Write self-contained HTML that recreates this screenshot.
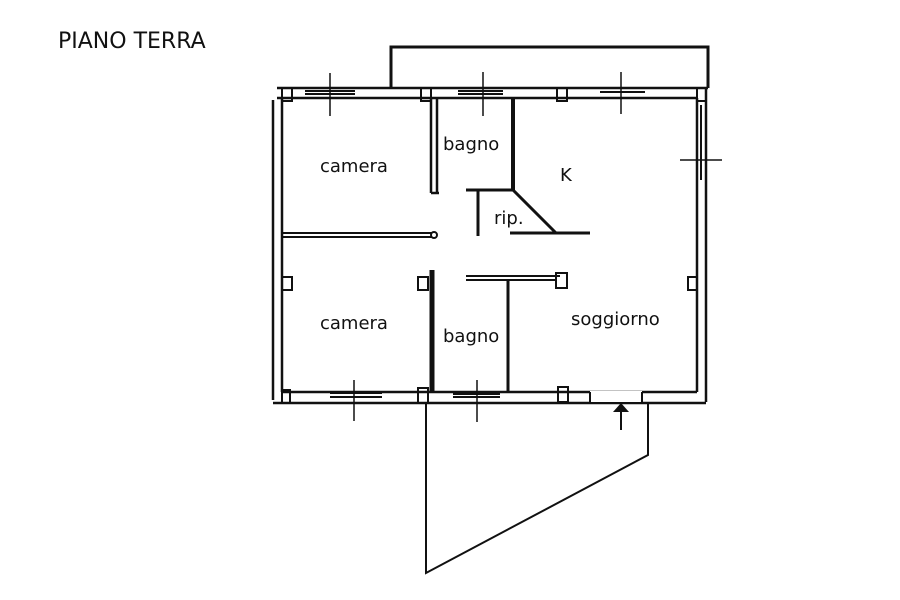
<!DOCTYPE html>
<html><head><meta charset="utf-8"><style>
html,body{margin:0;padding:0;background:#fff;}
svg{display:block;}
text{font-family:"DejaVu Sans","Liberation Sans",sans-serif;fill:#111;}
</style></head><body>
<svg width="900" height="600" viewBox="0 0 900 600" xmlns="http://www.w3.org/2000/svg">
<text x="58" y="48" font-size="22">PIANO TERRA</text>
<g fill="none" stroke="#111" stroke-width="2">
<path d="M391 88 V47 H708 V88" stroke-width="3"/>
<path d="M277 88 H708 M277 98 H697" stroke-width="2.5"/>
<path d="M282 98 V392 M273 100 V400" stroke-width="2.5"/>
<path d="M697 98 V392 M706 88 V402" stroke-width="2.5"/>
<path d="M282 392 H697 M273 403 H706" stroke-width="2.5"/>
<path d="M431 98 V193 M437 98 V193 M431 193 H439" stroke-width="2.5"/>
<path d="M513 98 V190" stroke-width="4"/>
<path d="M466 190 H513 L556 233" stroke-width="3"/>
<path d="M478 190 V236" stroke-width="3"/>
<path d="M510 233 H590" stroke-width="3"/>
<path d="M282 233 H432 M282 237 H432" />
<circle cx="434" cy="235" r="3"/>
<path d="M432 270 V392" stroke-width="5"/>
<path d="M466 276 H560 M466 280 H556" />
<path d="M508 280 V393" stroke-width="3"/>
<rect x="556" y="273" width="11" height="15"/>
<rect x="282" y="277" width="10" height="13"/>
<rect x="418" y="277" width="10" height="13"/>
<rect x="688" y="277" width="9" height="13"/>
<rect x="558" y="387" width="10" height="15"/>
<rect x="418" y="388" width="10" height="15"/>
<rect x="282" y="390" width="8" height="13"/>
<rect x="282" y="88" width="10" height="13"/>
<rect x="421" y="88" width="10" height="13"/>
<rect x="557" y="88" width="10" height="13"/>
<rect x="697" y="88" width="9" height="13"/>
<path d="M305 91 H355 M305 94 H355 M458 91 H503 M458 94 H503 M600 92 H645 M330 393 H382 M330 397 H382 M453 394 H500 M453 397 H500 M701 105 V180"/>
<path d="M330 73 V116 M483 72 V116 M621 72 V114 M680 160 H722 M354 380 V421 M477 380 V422" stroke-width="1.5"/>
<path d="M426 403 V573 L648 455 V403" stroke-width="2"/>
<path d="M621 412 V430" stroke-width="2"/>
</g>
<rect x="590" y="391" width="52" height="11" fill="#fff"/>
<path d="M590 392 V403 M642 392 V403 M590 403 H642" stroke="#111" stroke-width="2" fill="none"/>
<polygon points="613,412 629,412 621,403" fill="#111"/>
<text x="320" y="172" font-size="18">camera</text>
<text x="443" y="150" font-size="18">bagno</text>
<text x="560" y="181" font-size="18">K</text>
<text x="494" y="224" font-size="18">rip.</text>
<text x="320" y="329" font-size="18">camera</text>
<text x="443" y="342" font-size="18">bagno</text>
<text x="571" y="325" font-size="18">soggiorno</text>
</svg>
</body></html>
